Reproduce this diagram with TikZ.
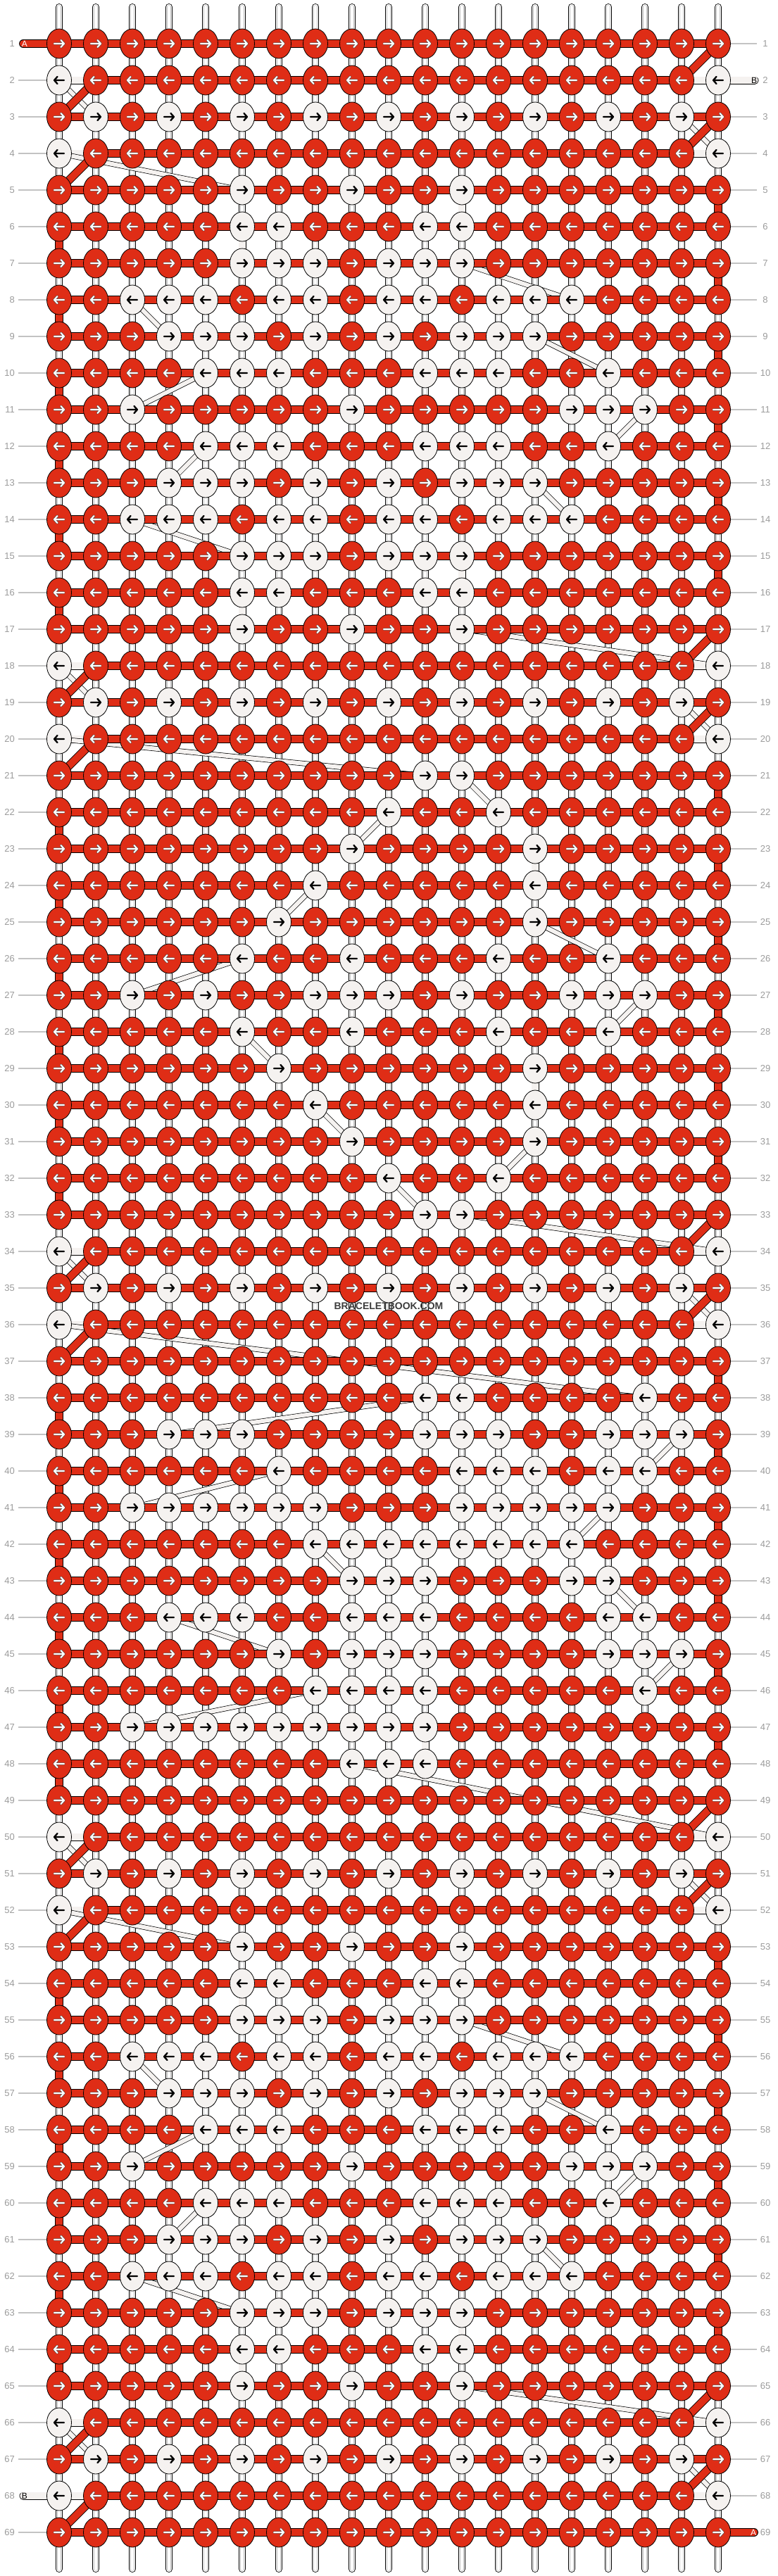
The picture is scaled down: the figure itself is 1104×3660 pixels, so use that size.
\documentclass[tikz,border=0pt]{standalone}
\usepackage{fontspec}
\setmainfont{Liberation Sans}
\usetikzlibrary{shapes.geometric}
\definecolor{knotred}{RGB}{223,45,22}
\definecolor{knotwhite}{RGB}{245,242,240}
\definecolor{rowgray}{RGB}{155,155,155}
\definecolor{guidegray}{RGB}{195,195,195}
\definecolor{markgray}{RGB}{60,60,60}
\pgfdeclarelayer{warp}
\pgfdeclarelayer{weftb}
\pgfdeclarelayer{wefta}
\pgfsetlayers{warp,weftb,wefta,main}
\tikzset{
  knot/.style={ellipse, draw=black, line width=0.8pt, minimum width=35pt, minimum height=42pt, inner sep=0pt},
  redknot/.style={knot, fill=knotred},
  whiteknot/.style={knot, fill=knotwhite},
  warpline/.style={draw=black, line width=0.8pt, double=white, double distance=8.4pt, line cap=round,
    postaction={draw=black!25, line width=0.5pt, double=white, double distance=4.4pt}},
  athread/.style={draw=black, line width=0.9pt, double=knotred, double distance=10pt, line cap=round},
  bflat/.style={draw=black, line width=0.8pt, double=knotwhite, double distance=9.4pt, line cap=round},
  bslant/.style={draw=black, line width=0.7pt, double=knotwhite, double distance=6pt, line cap=round},
  rowline/.style={draw=guidegray, line width=1.1pt},
  rownum/.style={text=rowgray, font=\fontsize{13}{13}\selectfont, inner sep=0pt},
  tailtag/.style={font=\fontsize{12}{12}\selectfont, inner sep=0pt},
  pics/darkarrow/.style={code={\draw[black, line width=2.3pt, line cap=round, line join=round] (-7,0) -- (7,0) (2.5,-5) -- (7,0) -- (2.5,5);}},
  pics/lightarrow/.style={code={
    \draw[black!70, line width=3.4pt, line cap=round, line join=round] (-7,0) -- (7,0) (2.5,-5) -- (7,0) -- (2.5,5);
    \draw[white, line width=2.1pt, line cap=round, line join=round] (-7,0) -- (7,0) (2.5,-5) -- (7,0) -- (2.5,5);}}
}
\newcommand\setwhite[2]{\foreach \c in {#2}{\expandafter\gdef\csname w-#1-\c\endcsname{1}}}
\newcommand\setrows[2]{\foreach \r in {#1}{\setwhite{\r}{#2}}}
\begin{document}
\begin{tikzpicture}[x=1pt, y=-1pt]
\useasboundingbox (0,0) rectangle (1104,3660);
\setrows{2,4,18,20,34,36,50,52,66,68}{1,19}
\setrows{3,19,35,51,67}{2,4,...,18}
\setrows{5,17,53,65}{6,9,12}
\setrows{6,16,54,64}{6,7,11,12}
\setrows{7,15,55,63}{6,7,8,10,11,12}
\setrows{8,14,56,62}{3,4,5,7,8,10,11,13,14,15}
\setrows{9,13,57,61}{4,5,6,8,10,12,13,14}
\setrows{10,12,58,60}{5,6,7,11,12,13,16}
\setrows{11,59}{3,9,15,16,17}
\setrows{21,33}{11,12}
\setrows{22,32}{10,13}
\setrows{23,31}{9,14}
\setrows{24,30}{8,14}
\setrows{25,29}{7,14}
\setrows{26,28}{6,9,13,16}
\setrows{27}{3,5,8,9,10,12,15,16,17}
\setrows{38}{11,12,17}
\setrows{39}{4,5,6,11,12,13,16,17,18}
\setrows{40}{7,12,13,14,16,17}
\setrows{41}{3,4,5,6,7,8,12,13,14,15,16}
\setrows{42}{8,...,15}
\setrows{43}{9,10,11,15,16}
\setrows{44}{4,5,6,9,10,11,16,17}
\setrows{45}{7,9,10,11,16,17,18}
\setrows{46}{8,9,10,11,17}
\setrows{47}{3,...,11}
\setrows{48}{9,10,11}
% knots
\foreach \r in {1,...,69}{
  \pgfmathtruncatemacro\ky{10+52*\r}
  \ifodd\r \xdef\dirx{1}\else \xdef\dirx{-1}\fi
  \foreach \c in {1,...,19}{
    \pgfmathtruncatemacro\kx{32+52*\c}
    \ifcsname w-\r-\c\endcsname
      \node[whiteknot] (k-\r-\c) at (\kx,\ky) {};
      \pic[xscale=\dirx] at (k-\r-\c) {darkarrow};
    \else
      \node[redknot] (k-\r-\c) at (\kx,\ky) {};
      \pic[xscale=\dirx] at (k-\r-\c) {lightarrow};
    \fi
  }
}
\coordinate (atail-in) at (33,62);
\coordinate (btail-in) at (1072,114);
\coordinate (btail-out) at (33,3546);
\coordinate (atail-out) at (1071,3598);
% warp
\begin{pgfonlayer}{warp}
\foreach \c in {1,...,19}{
  \pgfmathtruncatemacro\kx{32+52*\c}
  \coordinate (wtop-\c) at (\kx,10);
  \coordinate (wbot-\c) at (\kx,3650);
  \draw[warpline] (wtop-\c) -- (wbot-\c);
}
\end{pgfonlayer}
% thread B
\begin{pgfonlayer}{weftb}
\xdef\lastB{btail-in}\xdef\lastBrow{2}\xdef\lastBcol{20}
\foreach \r in {1,...,69}{
  \ifodd\r \xdef\cols{1,...,19}\else \xdef\cols{19,18,...,1}\fi
  \foreach \c in \cols {
    \ifcsname w-\r-\c\endcsname
      \ifnum\lastBrow=\r \xdef\bkind{bflat}\else
        \ifnum\lastBcol=\c \xdef\bkind{bflat}\else \xdef\bkind{bslant}\fi\fi
      \draw[\bkind] (\lastB.center) -- (k-\r-\c.center);
      \xdef\lastB{k-\r-\c}\xdef\lastBrow{\r}\xdef\lastBcol{\c}
    \fi
  }
}
\draw[bflat] (\lastB.center) -- (btail-out);
\end{pgfonlayer}
% thread A
\begin{pgfonlayer}{wefta}
\xdef\lastA{atail-in}
\foreach \r in {1,...,69}{
  \ifodd\r \xdef\cols{1,...,19}\else \xdef\cols{19,18,...,1}\fi
  \foreach \c in \cols {
    \ifcsname w-\r-\c\endcsname\else
      \draw[athread] (\lastA.center) -- (k-\r-\c.center);
      \xdef\lastA{k-\r-\c}
    \fi
  }
}
\draw[athread] (\lastA.center) -- (atail-out);
\end{pgfonlayer}
\node[tailtag, text=white] (tag-a1) at (35,62) {A};
\node[tailtag] (tag-b2) at (1071,114) {B};
\node[tailtag] (tag-b68) at (35,3546) {B};
\node[tailtag, text=white] (tag-a69) at (1070,3598) {A};
% row numbers
\foreach \r in {1,...,69}{
  \pgfmathtruncatemacro\ky{10+52*\r}
  \node[rownum, anchor=east] (lnum-\r) at (21,\ky) {\r};
  \node[rownum] (rnum-\r) at (1087,\ky) {\r};
  \ifnum\r=1 \else\ifnum\r=68 \else
    \coordinate (lend-\r) at (26,\ky);
    \draw[rowline] (lend-\r) -- (k-\r-1);
  \fi\fi
  \ifnum\r=2 \else\ifnum\r=69 \else
    \coordinate (rend-\r) at (1075,\ky);
    \draw[rowline] (k-\r-19) -- (rend-\r);
  \fi\fi
}
\node[text=markgray, font=\bfseries\fontsize{14}{14}\selectfont, inner sep=0pt] (mark) at (552,1856) {BRACELETBOOK.COM};
\end{tikzpicture}
\end{document}
